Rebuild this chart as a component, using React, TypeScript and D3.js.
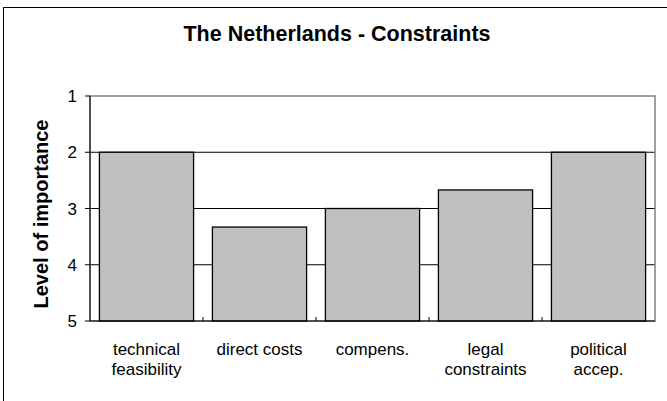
import React from "react";
import * as d3 from "d3";

// Survey result: importance level per constraint (1 = most important, 5 = least)
const categories: string[][] = [
  ["technical", "feasibility"],
  ["direct costs"],
  ["compens."],
  ["legal", "constraints"],
  ["political", "accep."],
];
const importance: number[] = [2, 3.33, 3, 2.67, 2];
const yTicks: number[] = [1, 2, 3, 4, 5];
const gridValues: number[] = [2, 3, 4];

const W = 667;
const H = 401;
const plot = { left: 90, right: 655, top: 96, bottom: 321 };
const FONT = "Arial, 'Liberation Sans', Helvetica, sans-serif";

export default function App() {
  const keys = categories.map((c) => c.join(" "));
  const x = d3
    .scaleBand<string>()
    .domain(keys)
    .range([plot.left, plot.right])
    .paddingInner(0.1667)
    .paddingOuter(0.0833);
  const y = d3.scaleLinear().domain([1, 5]).range([plot.top, plot.bottom]);
  const step = x.step();
  const boundaries = d3.range(1, keys.length).map((i) => plot.left + i * step);

  return (
    <svg
      width={W}
      height={H}
      viewBox={`0 0 ${W} ${H}`}
      style={{ position: "absolute", left: 0, top: 0, background: "#fff" }}
      fontFamily={FONT}
    >
      <rect x={0} y={0} width={W} height={H} fill="#fff" />
      {/* chart area frame */}
      <rect x={3.5} y={7.5} width={W + 20} height={H + 20} fill="none" stroke="#000" strokeWidth={1} />

      <text x={337} y={41} textAnchor="middle" fontSize={21.5} fontWeight="bold" fill="#000">
        The Netherlands - Constraints
      </text>

      {/* gridlines */}
      {gridValues.map((v) => (
        <line key={v} x1={plot.left} x2={plot.right} y1={y(v)} y2={y(v)} stroke="#000" strokeWidth={1} />
      ))}

      {/* plot area border */}
      <rect
        x={plot.left}
        y={plot.top}
        width={plot.right - plot.left}
        height={plot.bottom - plot.top}
        fill="none"
        stroke="#808080"
        strokeWidth={1.5}
      />

      {/* bars grow from the bottom of the inverted scale */}
      {keys.map((k, i) => (
        <rect
          key={k}
          x={x(k)}
          y={y(importance[i])}
          width={x.bandwidth()}
          height={y(5) - y(importance[i])}
          fill="#c0c0c0"
          stroke="#000"
          strokeWidth={1.3}
        />
      ))}

      {/* axes */}
      <line x1={plot.left} x2={plot.left} y1={plot.top} y2={plot.bottom} stroke="#000" strokeWidth={1} />
      <line x1={plot.left} x2={plot.right} y1={plot.bottom} y2={plot.bottom} stroke="#000" strokeWidth={1} />
      {boundaries.map((bx) => (
        <line key={bx} x1={bx} x2={bx} y1={plot.bottom} y2={plot.bottom - 4} stroke="#000" strokeWidth={1} />
      ))}
      {yTicks.map((t) => (
        <g key={t}>
          <line x1={plot.left - 5} x2={plot.left} y1={y(t)} y2={y(t)} stroke="#000" strokeWidth={1} />
          <text x={77} y={y(t) + 6} textAnchor="end" fontSize={17} fill="#000">
            {t}
          </text>
        </g>
      ))}

      {/* category labels */}
      {categories.map((lines, i) => (
        <text key={i} textAnchor="middle" fontSize={17} fill="#000">
          {lines.map((ln, j) => (
            <tspan key={j} x={(x(keys[i]) ?? 0) + x.bandwidth() / 2} y={355 + j * 20}>
              {ln}
            </tspan>
          ))}
        </text>
      ))}

      <text
        transform={`translate(48,214) rotate(-90)`}
        textAnchor="middle"
        fontSize={20}
        fontWeight="bold"
        fill="#000"
      >
        Level of importance
      </text>
    </svg>
  );
}
